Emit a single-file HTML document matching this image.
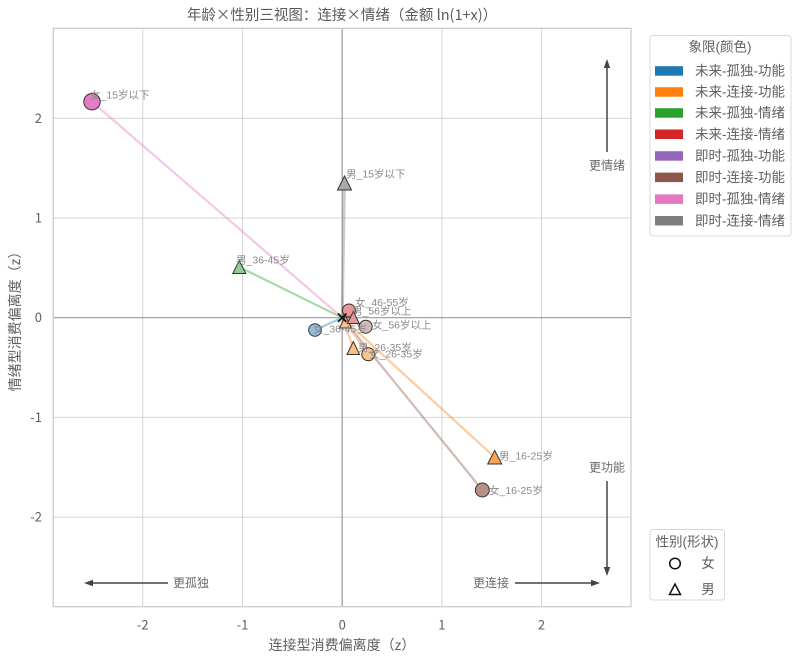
<!DOCTYPE html>
<html><head><meta charset="utf-8"><style>
html,body{margin:0;padding:0;background:#fff;}
svg{display:block;font-family:"Liberation Sans","Noto Sans CJK SC",sans-serif;}
.cjk{font-family:"Noto Sans CJK SC","Liberation Sans",sans-serif;}
</style></head><body>
<svg width="800" height="663" viewBox="0 0 800 663" xmlns="http://www.w3.org/2000/svg">
<rect width="800" height="663" fill="#fff"/>
<!-- grid -->
<g stroke="#d4d4d4" stroke-width="1">
<line x1="142.8" y1="28.3" x2="142.8" y2="606.7"/>
<line x1="242.5" y1="28.3" x2="242.5" y2="606.7"/>
<line x1="441.9" y1="28.3" x2="441.9" y2="606.7"/>
<line x1="541.5" y1="28.3" x2="541.5" y2="606.7"/>
<line x1="53.3" y1="118.3" x2="631" y2="118.3"/>
<line x1="53.3" y1="218" x2="631" y2="218"/>
<line x1="53.3" y1="417.4" x2="631" y2="417.4"/>
<line x1="53.3" y1="517.1" x2="631" y2="517.1"/>
</g>
<g stroke="#9a9a9a" stroke-width="1.2">
<line x1="342.2" y1="28.3" x2="342.2" y2="606.7"/>
<line x1="53.3" y1="317.7" x2="631" y2="317.7"/>
</g>
<rect x="53.3" y="28.3" width="577.7" height="578.4" fill="none" stroke="#cccccc" stroke-width="1.3"/>

<!-- rays -->
<g stroke-width="2.2" stroke-linecap="round" opacity="0.4">
<line x1="342.2" y1="317.7" x2="92" y2="101.7" stroke="#e377c2"/>
<line x1="342.2" y1="317.7" x2="344.5" y2="183" stroke="#7f7f7f" stroke-width="3"/>
<line x1="342.2" y1="317.7" x2="239.3" y2="267" stroke="#2ca02c"/>
<line x1="342.2" y1="317.7" x2="315" y2="330" stroke="#1f77b4"/>
<line x1="342.2" y1="317.7" x2="349" y2="310.5" stroke="#d62728"/>
<line x1="342.2" y1="317.7" x2="353.3" y2="317.5" stroke="#d62728"/>
<line x1="342.2" y1="317.7" x2="345.5" y2="322" stroke="#ff7f0e"/>
<line x1="342.2" y1="317.7" x2="365.7" y2="326.7" stroke="#8c564b"/>
<line x1="342.2" y1="317.7" x2="353.3" y2="348" stroke="#ff7f0e"/>
<line x1="342.2" y1="317.7" x2="368.3" y2="354.3" stroke="#ff7f0e"/>
<line x1="342.2" y1="317.7" x2="494.7" y2="457.3" stroke="#ff7f0e"/>
<line x1="342.2" y1="317.7" x2="482.3" y2="490" stroke="#8c564b"/>
</g>

<!-- markers -->
<g stroke="#333" stroke-width="1">
<circle cx="92" cy="101.7" r="8.2" fill="rgb(228,124,198)"/>
<polygon points="344.5,176 337.5,190 351.5,190" fill="rgb(168,168,168)"/>
<polygon points="239.3,260.5 232.8,273.5 245.8,273.5" fill="rgb(145,206,145)"/>
<circle cx="315" cy="330" r="6.3" fill="rgb(146,189,219)"/>
<polygon points="345.5,316 339.5,328 351.5,328" fill="rgb(252,192,140)"/>
<circle cx="349" cy="310.5" r="6.5" fill="rgb(234,150,150)"/>
<polygon points="353.3,311.5 347.3,323.5 359.3,323.5" fill="rgb(234,150,150)"/>
<circle cx="365.7" cy="326.7" r="6.5" fill="rgb(209,187,183)"/>
<polygon points="353.3,341.5 347,354.5 359.6,354.5" fill="rgb(252,190,135)"/>
<circle cx="368.3" cy="354.3" r="6.5" fill="rgb(252,196,146)"/>
<polygon points="494.7,450.5 487.7,464 501.7,464" fill="rgb(252,166,82)"/>
<circle cx="482.3" cy="490" r="7" fill="rgb(182,143,135)"/>
</g>
<!-- origin X -->
<g stroke="#111" stroke-width="1.8">
<line x1="338" y1="313.5" x2="346.4" y2="321.9"/>
<line x1="346.4" y1="313.5" x2="338" y2="321.9"/>
</g>

<!-- point labels -->
<g font-size="10.5" fill="#8a8a8a">
<text x="90" y="98.5">女_15岁以下</text>
<text x="346" y="177.5">男_15岁以下</text>
<text x="236" y="263.5">男_36-45岁</text>
<text x="313" y="332.5">女_36-45岁</text>
<text x="355" y="306">女_46-55岁</text>
<text x="352" y="314.5">男_56岁以上</text>
<text x="372" y="328.5">女_56岁以上</text>
<text x="358" y="351">男_26-35岁</text>
<text x="369" y="357.5">女_26-35岁</text>
<text x="499" y="459.5">男_16-25岁</text>
<text x="489" y="494">女_16-25岁</text>
</g>

<!-- direction arrows -->
<g stroke="#444" stroke-width="1.5">
<line x1="168" y1="583" x2="92" y2="583"/>
<line x1="515" y1="583" x2="592" y2="583"/>
<line x1="607" y1="152" x2="607" y2="67"/>
<line x1="607" y1="481" x2="607" y2="568"/>
</g>
<g fill="#444">
<polygon points="84,583 93,579.8 93,586.2"/>
<polygon points="600,583 591,579.8 591,586.2"/>
<polygon points="607,59 603.8,68 610.2,68"/>
<polygon points="607,576 603.8,567 610.2,567"/>
</g>
<g font-size="12" fill="#6a6a6a">
<text x="173" y="587">更孤独</text>
<text x="473" y="587">更连接</text>
<text x="607" y="169.5" text-anchor="middle">更情绪</text>
<text x="607" y="471.5" text-anchor="middle">更功能</text>
</g>

<!-- ticks -->
<g font-size="13" fill="#606060" text-anchor="middle" class="cjk">
<text x="142.8" y="629.5">-2</text>
<text x="242.5" y="629.5">-1</text>
<text x="342.2" y="629.5">0</text>
<text x="441.9" y="629.5">1</text>
<text x="541.5" y="629.5">2</text>
</g>
<g font-size="13" fill="#606060" text-anchor="end" class="cjk">
<text x="42" y="122.8">2</text>
<text x="42" y="222.5">1</text>
<text x="42" y="322.2">0</text>
<text x="42" y="421.9">-1</text>
<text x="42" y="521.6">-2</text>
</g>

<!-- axis labels and title -->
<text x="342" y="650" font-size="14" fill="#606060" text-anchor="middle">连接型消费偏离度<tspan class="cjk">（z）</tspan></text>
<text transform="translate(20,318) rotate(-90)" font-size="14" fill="#606060" text-anchor="middle">情绪型消费偏离度<tspan class="cjk">（z）</tspan></text>
<text x="342" y="20" font-size="14.5" fill="#5a5a5a" text-anchor="middle" class="cjk">年龄×性别三视图：连接×情绪（金额 ln(1+x)）</text>

<!-- legend 1 -->
<rect x="650" y="35.5" width="141" height="200.5" rx="3" fill="#fff" stroke="#d8d8d8" stroke-width="1"/>
<text x="720" y="51.5" font-size="13.5" fill="#606060" text-anchor="middle">象限(颜色)</text>
<g>
<rect x="655" y="66.2" width="28" height="9.5" fill="#1f77b4"/>
<rect x="655" y="87.2" width="28" height="9.5" fill="#ff7f0e"/>
<rect x="655" y="108.2" width="28" height="9.5" fill="#2ca02c"/>
<rect x="655" y="129.5" width="28" height="9.5" fill="#d62728"/>
<rect x="655" y="151.2" width="28" height="9.5" fill="#9467bd"/>
<rect x="655" y="172.6" width="28" height="9.5" fill="#8c564b"/>
<rect x="655" y="194.4" width="28" height="9.5" fill="#e377c2"/>
<rect x="655" y="216" width="28" height="9.5" fill="#7f7f7f"/>
</g>
<g font-size="13.5" fill="#606060">
<text x="695" y="75.5">未来-孤独-功能</text>
<text x="695" y="96.5">未来-连接-功能</text>
<text x="695" y="117.5">未来-孤独-情绪</text>
<text x="695" y="138.8">未来-连接-情绪</text>
<text x="695" y="160.5">即时-孤独-功能</text>
<text x="695" y="181.9">即时-连接-功能</text>
<text x="695" y="203.7">即时-孤独-情绪</text>
<text x="695" y="225.3">即时-连接-情绪</text>
</g>

<!-- legend 2 -->
<rect x="650" y="529.5" width="74.5" height="70.5" rx="3" fill="#fff" stroke="#d8d8d8" stroke-width="1"/>
<text x="687" y="546.5" font-size="13.5" fill="#606060" text-anchor="middle">性别(形状)</text>
<circle cx="675" cy="563.5" r="5.3" fill="none" stroke="#111" stroke-width="1.5"/>
<polygon points="675,584 669.5,594.5 680.5,594.5" fill="none" stroke="#111" stroke-width="1.5"/>
<g font-size="13.5" fill="#606060" text-anchor="middle">
<text x="708" y="568.2">女</text>
<text x="708" y="594.2">男</text>
</g>
</svg>
</body></html>
